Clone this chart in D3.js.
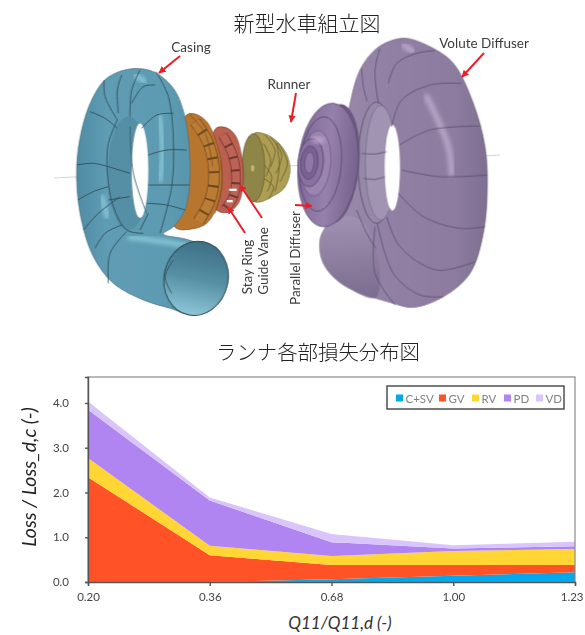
<!DOCTYPE html>
<html><head><meta charset="utf-8">
<script src="https://cdn.jsdelivr.net/npm/d3@7"></script>
<style>html,body{margin:0;padding:0;background:#fff}svg{display:block}</style>
</head><body><svg id="c" width="585" height="635"></svg>
<script>
const categories = ["0.20","0.36","0.68","1.00","1.23"];
const seriesNames = ["C+SV","GV","RV","PD","VD"];
const csv = [0,0,0.06,0.14,0.22];
const gv = [2.34,0.6,0.32,0.24,0.16];
const rv = [0.43,0.21,0.2,0.31,0.36];
const pd = [1.08,1.01,0.31,0.06,0.06];
const vd = [0.18,0.07,0.18,0.07,0.1];
const yTicks = [0,1,2,3,4];
const seriesColors = ["#00a9ec","#ff5226","#ffd633","#b085f2","#d9c4fb"];
const title1 = "新型水車組立図", title2 = "ランナ各部損失分布図";
const xTitle = "Q11/Q11,d (-)", yTitle = "Loss / Loss_d,c (-)";

const svg = d3.select("#c");
const defs = svg.append("defs");
defs.append("filter").attr("id","soft").append("feGaussianBlur").attr("stdDeviation",0.45);
defs.append("filter").attr("id","glow").append("feGaussianBlur").attr("stdDeviation",7);
function grad(id,stops,x2=1,y2=0){
  const g=defs.append("linearGradient").attr("id",id).attr("x1",0).attr("y1",0).attr("x2",x2).attr("y2",y2);
  stops.forEach(s=>g.append("stop").attr("offset",s[0]).attr("stop-color",s[1]));
}
grad("teal",[[0,"#4f8ca3"],[.2,"#5f9db4"],[.6,"#5c9bb2"],[1,"#558fa5"]]);
grad("tealEnd",[[0,"#3c6f85"],[.5,"#568fa5"],[1,"#8cc6d6"]],0,1);
grad("vol",[[0,"#9d8dad"],[.45,"#917fa4"],[.8,"#8d7ca0"],[1,"#7f7092"]]);
grad("volV",[[0,"#a394b4"],[1,"#75678a"]],0,1);
grad("par",[[0,"#806a98"],[.5,"#9680ac"],[1,"#77628e"]]);

const closedLine=d3.line().curve(d3.curveCatmullRomClosed.alpha(.5));
const openLine=d3.line().curve(d3.curveCatmullRom.alpha(.5));

const art=svg.append("g").attr("filter","url(#soft)");
art.append("line").attr("x1",54).attr("y1",178).attr("x2",500).attr("y2",155).attr("stroke","#d4d4d4").attr("stroke-width",1);

const ell=(g,cx,cy,rx,ry,fill,rot)=>g.append("ellipse").attr("cx",cx).attr("cy",cy).attr("rx",rx).attr("ry",ry).attr("fill",fill).attr("transform",rot?`rotate(${rot} ${cx} ${cy})`:null);
const strokeLines=(g,lines,col,w)=>lines.forEach(p=>g.append("path").attr("d",openLine(p)).attr("fill","none").attr("stroke",col).attr("stroke-width",w));

/* left assembly, drawn in crop coordinates */
const L=art.append("g").attr("transform","translate(30,0) scale(0.3333)");
// runner
L.append("path").attr("d",closedLine([[670,402],[705,402],[745,428],[772,468],[780,515],[762,565],[722,592],[690,606],[665,600]])).attr("fill","#ad9e52").attr("stroke","#6f6632").attr("stroke-width",2);
strokeLines(L,[[[705,405],[735,450],[722,500]],[[722,412],[755,465],[738,520]],[[745,430],[772,490],[750,545]],[[700,430],[722,480],[708,530]],[[698,490],[725,530],[712,575]],[[700,535],[730,560],[715,598]],[[740,428],[748,500],[735,575]]],"#6a6130",2.6);
ell(L,670,503,34,102,"#8e8549").attr("stroke","#5d5528").attr("stroke-width",2);
ell(L,668,505,5,10,"#c3b870");
// guide vane ring
L.append("path").attr("d",closedLine([[555,388],[585,382],[615,405],[635,470],[640,540],[625,610],[590,638],[555,625]])).attr("fill","#bb5f50").attr("stroke","#7c3a30").attr("stroke-width",2);
strokeLines(L,[[[578,405],[608,465],[618,530],[610,590],[585,628]]],"#6f352d",28);
L.append("path").attr("d",openLine([[578,405],[608,465],[618,530],[610,590],[585,628]])).attr("fill","none").attr("stroke","#bc6355").attr("stroke-width",24).attr("stroke-dasharray","33 6");
L.append("rect").attr("x",598).attr("y",566).attr("width",22).attr("height",7).attr("fill","#fff");
L.append("rect").attr("x",590).attr("y",600).attr("width",18).attr("height",7).attr("fill","#fff");
// stay ring
L.append("path").attr("d",closedLine([[470,345],[495,342],[530,365],[560,430],[577,520],[565,610],[530,670],[490,686],[435,682],[420,510]])).attr("fill","#b8742f").attr("stroke","#7d4f20").attr("stroke-width",2);
strokeLines(L,[[[495,365],[535,430],[552,520],[540,600],[505,665]]],"#6e4a1f",34);
L.append("path").attr("d",openLine([[495,365],[535,430],[552,520],[540,600],[505,665]])).attr("fill","none").attr("stroke","#bb7c35").attr("stroke-width",30).attr("stroke-dasharray","36 6");
strokeLines(L,[[[480,345],[525,400],[548,500]],[[555,640],[575,560],[572,480]]],"#7d4f20",2.4);
// casing
L.append("path").attr("d",closedLine([[300,207],[370,215],[430,265],[462,340],[478,450],[478,560],[465,630],[430,680],[400,702],[470,718],[540,745],[575,770],[596,830],[560,915],[490,945],[420,925],[340,900],[250,850],[190,770],[150,640],[140,500],[155,390],[185,300],[230,235]]))
 .attr("fill","url(#teal)").attr("stroke","#48707f").attr("stroke-width",2);
ell(L,295,520,62,170,"#558fa5");
ell(L,330,512,25,142,"#fff");
// highlights
[[[388,350],[398,450],[390,540]],[[315,225],[345,245]],[[215,590],[232,650]],[[300,712],[420,728],[510,745]]].forEach(p=>
 L.append("path").attr("d",openLine(p)).attr("fill","none").attr("stroke","#a4e0ee").attr("stroke-width",16).attr("stroke-linecap","round").attr("opacity",.6).attr("filter","url(#glow)"));
L.append("path").attr("d",openLine([[300,380],[310,520],[350,640]])).attr("fill","none").attr("stroke","#35596a").attr("stroke-width",2.5);
ell(L,498,835,96,112,"url(#tealEnd)",12).attr("stroke","#2f4a55").attr("stroke-width",3);
strokeLines(L,[
 [[140,495],[190,490],[235,500]],[[143,600],[190,575],[235,560]],[[160,690],[205,640],[270,590]],[[195,745],[225,700],[275,675]],
 [[180,335],[225,355],[262,385]],[[222,240],[225,290],[262,360]],[[275,225],[262,270],[265,340]],[[330,210],[305,270],[300,350]],
 [[375,255],[340,260],[305,310]],[[430,340],[380,345],[335,385]],[[470,450],[410,450],[355,465]],[[478,555],[420,555],[355,555]],[[465,630],[410,615],[350,610]],
 [[378,215],[415,290],[430,420],[425,560],[390,700]],[[262,360],[235,430],[232,520],[250,620],[290,690],[340,700]],
 [[290,695],[240,760],[235,850]],[[235,500],[300,520]],[[235,600],[300,590]],[[430,780],[405,830],[425,880]],[[330,690],[355,640]]
],"#2f4a55",2.6);

/* right assembly */
const R=art.append("g").attr("transform","translate(280,20) scale(0.3333)");
R.append("path").attr("d",closedLine([[380,55],[450,80],[520,130],[580,250],[615,380],[622,500],[610,640],[570,760],[490,830],[400,862],[340,850],[190,795],[130,730],[120,660],[150,590],[200,300],[240,150],[290,85],[340,60]]))
 .attr("fill","url(#vol)").attr("stroke","#6c5f7c").attr("stroke-width",2);
R.append("path").attr("d",closedLine([[128,650],[190,590],[240,600],[288,680],[288,832],[190,793],[132,730]])).attr("fill","url(#volV)").attr("opacity",.8);
[[[440,230],[505,380],[515,460]],[[370,75],[400,95]]].forEach(p=>
 R.append("path").attr("d",openLine(p)).attr("fill","none").attr("stroke","#d9c8e6").attr("stroke-width",18).attr("stroke-linecap","round").attr("opacity",.55).attr("filter","url(#glow)"));
ell(R,290,428,56,182,"#9688a8").attr("stroke","#5a4e6b").attr("stroke-width",2.6);
ell(R,302,428,46,172,"#a194b2").attr("stroke","#6b5f7c").attr("stroke-width",1.6);
ell(R,337,443,23,129,"#fff");
strokeLines(R,[
 [[358,375],[450,330],[600,318]],[[365,450],[480,470],[622,465]],[[355,520],[430,590],[540,625],[615,620]],[[320,590],[360,680],[470,750],[585,725]],
 [[292,610],[340,760],[420,825],[490,830]],[[285,620],[285,760],[345,855]],[[335,320],[365,240],[450,195],[545,190]],[[325,190],[350,130],[410,100],[465,92]],
 [[300,85],[285,150],[295,250]],[[245,145],[250,200],[262,245]],[[245,400],[285,402],[320,395]],[[250,475],[285,478],[315,470]],[[230,570],[260,640],[288,685]]
],"#564a68",2.3);
// parallel diffuser
ell(R,168,432,70,180,"#6d5a80",5);
ell(R,144,435,90,186,"url(#par)",5).attr("stroke","#5c4a6e").attr("stroke-width",2);
ell(R,122,432,62,142,"none",5).attr("stroke","#5c4a6e").attr("stroke-width",2.6);
ell(R,108,430,44,98,"#9a84b0",5).attr("stroke","#6a5780").attr("stroke-width",2);
ell(R,92,428,38,72,"#8a72a3",5).attr("stroke","#5c4a6e").attr("stroke-width",2.6);
ell(R,88,428,26,50,"#7a6492",5).attr("stroke","#5c4a6e").attr("stroke-width",2.6);
ell(R,88,428,14,32,"#9079a8",5).attr("stroke","#5c4a6e").attr("stroke-width",2);
R.append("ellipse").attr("cx",115).attr("cy",360).attr("rx",20).attr("ry",10).attr("fill","#c9b4dc").attr("opacity",.7).attr("filter","url(#glow)");

/* callouts */
const labelStyle=s=>s.attr("font-family","Lato,sans-serif").attr("font-size",13.5).attr("fill","#3c3c3c").attr("text-anchor","middle");
[["Casing",191,47,0],["Runner",289,84,0],["Volute Diffuser",484,43,0],["Stay Ring",247,267,-90],["Guide Vane",263,261,-90],["Parallel Diffuser",295,258,-90]].forEach(d=>
 svg.append("text").call(labelStyle).attr("dominant-baseline","central").attr("transform",`translate(${d[1]},${d[2]}) rotate(${d[3]})`).text(d[0]));
const mk=defs.append("marker").attr("id","arr").attr("viewBox","0 0 10 10").attr("refX",9).attr("refY",5).attr("markerWidth",3.6).attr("markerHeight",3.6).attr("orient","auto");
mk.append("path").attr("d","M0,0L10,5L0,10Z").attr("fill","#e8202a");
[[180,56,159,73],[296,93,291,122],[484,53,462,77],[245,233,228,207],[262,218,240,185],[295,205,312,206]].forEach(a=>
 svg.append("line").attr("x1",a[0]).attr("y1",a[1]).attr("x2",a[2]).attr("y2",a[3]).attr("stroke","#e8202a").attr("stroke-width",2).attr("marker-end","url(#arr)"));

/* titles */
const titleStyle=s=>s.attr("font-family","'Noto Sans CJK JP',sans-serif").attr("font-weight",300).attr("fill","#222").attr("text-anchor","middle").attr("dominant-baseline","central");
svg.append("text").call(titleStyle).attr("font-size",21).attr("x",307).attr("y",22).text(title1);
svg.append("text").call(titleStyle).attr("font-size",20.4).attr("x",318).attr("y",351).text(title2);

/* chart */
const plotLeft=88,plotRight=575,plotTop=377,plotBottom=582;
const x=d3.scalePoint().domain(categories).range([plotLeft,plotRight]);
const y=d3.scaleLinear().domain([0,4.58]).range([plotBottom,plotTop]);
const rows=categories.map((c,i)=>({c,"C+SV":csv[i],GV:gv[i],RV:rv[i],PD:pd[i],VD:vd[i]}));
const stacked=d3.stack().keys(seriesNames)(rows);
const area=d3.area().x(d=>x(d.data.c)).y0(d=>y(d[0])).y1(d=>y(d[1]));
const plot=svg.append("g");
plot.selectAll("path").data(stacked).join("path").attr("d",area).attr("fill",(d,i)=>seriesColors[i]);
svg.append("rect").attr("x",plotLeft).attr("y",plotTop).attr("width",plotRight-plotLeft).attr("height",plotBottom-plotTop).attr("fill","none").attr("stroke","#8a8a8a").attr("stroke-width",1.2);
const ax=svg.append("g").attr("transform",`translate(0,${plotBottom})`).call(d3.axisBottom(x).tickSize(4).tickPadding(7));
const ay=svg.append("g").attr("transform",`translate(${plotLeft},0)`).call(d3.axisLeft(y).tickValues(yTicks).tickFormat(d3.format(".1f")).tickSize(3).tickPadding(16));
[ax,ay].forEach(a=>{a.selectAll("path,line").attr("stroke","#555").attr("stroke-width",1.4);
 a.selectAll("text").attr("font-family","Lato,sans-serif").attr("font-size",11.5).attr("fill","#444");});
ax.selectAll(".tick:last-of-type text").attr("text-anchor","end").attr("x",8);
svg.append("text").attr("x",340).attr("y",622).attr("text-anchor","middle").attr("dominant-baseline","central").attr("font-family","Lato,sans-serif").attr("font-style","italic").attr("font-size",17).attr("fill","#333").text(xTitle);
svg.append("text").attr("transform","translate(28,477) rotate(-90)").attr("text-anchor","middle").attr("dominant-baseline","central").attr("font-family","Lato,sans-serif").attr("font-style","italic").attr("font-size",19.5).attr("fill","#222").text(yTitle);

/* legend */
svg.append("rect").attr("x",387).attr("y",386).attr("width",177).attr("height",23).attr("fill","#fff").attr("stroke","#444").attr("stroke-width",1.4);
const legX=d3.scaleOrdinal().domain(seriesNames).range([396,439,472,504,536]);
const lg=svg.append("g").selectAll("g").data(seriesNames).join("g").attr("transform",d=>`translate(${legX(d)},398)`);
lg.append("rect").attr("x",0).attr("y",-3.5).attr("width",7).attr("height",7).attr("fill",(d,i)=>seriesColors[i]);
lg.append("text").attr("x",9.5).attr("dominant-baseline","central").attr("font-family","Lato,sans-serif").attr("font-size",11.5).attr("fill","#808080").text(d=>d);
</script></body></html>
